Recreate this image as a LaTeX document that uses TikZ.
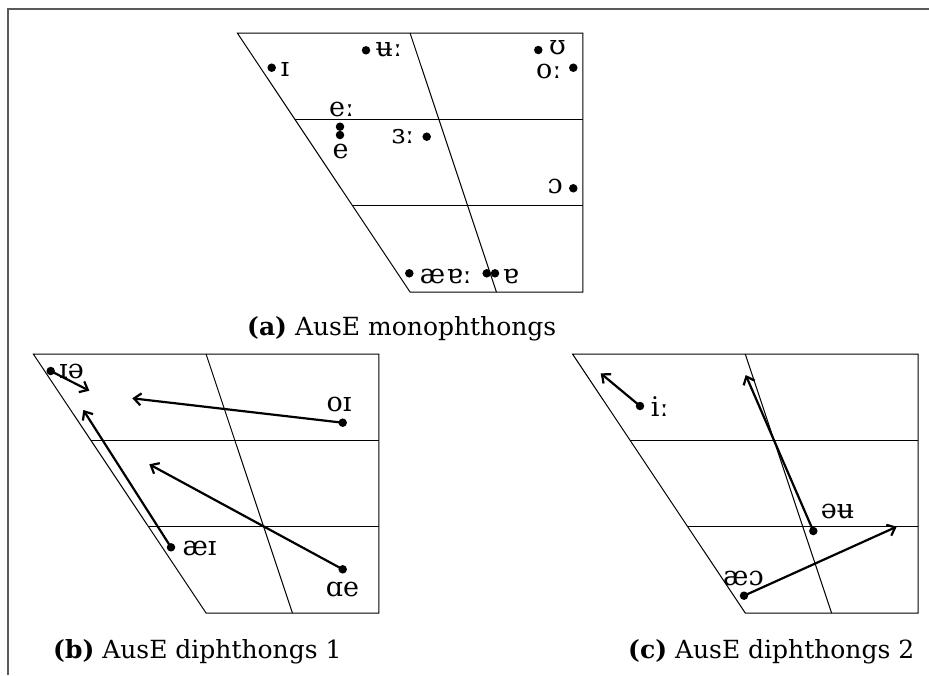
\documentclass[tikz,border=0pt]{standalone}
\usepackage{fontspec}
\setmainfont{DejaVu Serif}
\usetikzlibrary{arrows.meta}
\begin{document}
\begin{tikzpicture}[x=1pt,y=-1pt,
  grid/.style={line width=1pt},
  frame/.style={line width=1.4pt,draw=black!65},
  vdot/.style={circle,fill,inner sep=0pt,minimum size=8.5pt},
  ipa/.style={font=\fontsize{27}{29}\selectfont,inner sep=0pt,anchor=base west},
  diph/.style={line width=2.2pt,-{Straight Barb[length=7pt,width=12pt]}},
  capt/.style={font=\fontsize{25}{28}\selectfont,inner sep=0pt,anchor=base west},
  vowelchart/.pic={
    \draw[grid] (0,0) -- (345.5,0) -- (345.5,259) -- (172.75,259) -- cycle;
    \draw[grid] (172.75,0) -- (259.1,259);
    \draw[grid] (57.6,86.33) -- (345.5,86.33);
    \draw[grid] (115.2,172.67) -- (345.5,172.67);
  }
]
\useasboundingbox (0,0) rectangle (929,675);
\fill[white] (0,0) rectangle (929,675);
\draw[frame] (8,675) -- (8,9) -- (929,9);

% ---------- (a) monophthongs ----------
\pic at (237.3,33) {vowelchart};
\node[vdot] (aI) at (271.7,67.7) {};
\node[vdot] (aUU) at (366,50.3) {};
\node[vdot] (aU) at (538.3,50) {};
\node[vdot] (aO) at (573.3,67.7) {};
\node[vdot] (aEE) at (340,126.7) {};
\node[vdot] (aE) at (340,135) {};
\node[vdot] (aER) at (426.7,136.7) {};
\node[vdot] (aOO) at (573.3,188.3) {};
\node[vdot] (aAE) at (409.3,273.3) {};
\node[vdot] (aAA) at (486.7,273.3) {};
\node[vdot] (aA) at (495,273.3) {};
\node[ipa] (laI) at (280.5,76.7) {ɪ};
\node[ipa] (laUU) at (375.5,56.7) {ʉː};
\node[ipa] (laU) at (549,54.5) {ʊ};
\node[ipa] (laO) at (536,78.5) {oː};
\node[ipa] (laEE) at (329,116.7) {eː};
\node[ipa] (laE) at (332.3,158.3) {e};
\node[ipa] (laER) at (391.3,143.3) {ɜː};
\node[ipa] (laOO) at (547.3,193.3) {ɔ};
\node[ipa] (laAE) at (419.7,283.3) {æ};
\node[ipa] (laAA) at (446.3,283.3) {ɐː};
\node[ipa] (laA) at (502.3,283.3) {ɐ};
\node[capt] (capa) at (247,335.7) {\textbf{(a)} AusE monophthongs};

% ---------- (b) diphthongs 1 ----------
\pic at (33.3,354) {vowelchart};
\node[vdot] (bIe) at (50.7,371) {};
\node[vdot] (bOI) at (342.7,422.7) {};
\node[vdot] (bAEI) at (171,547.3) {};
\node[vdot] (bAE) at (342.7,569.3) {};
\coordinate (tIe) at (89.3,390.7);
\coordinate (tOI) at (132.3,398.3);
\coordinate (tAEI) at (83.3,410);
\coordinate (tAE) at (149.3,464.3);
\draw[diph] (bIe.center) -- (tIe);
\draw[diph] (bOI.center) -- (tOI);
\draw[diph] (bAEI.center) -- (tAEI);
\draw[diph] (bAE.center) -- (tAE);
\node[ipa] (lbIe) at (59,378.3) {ɪə};
\node[ipa] (lbOI) at (326.3,411.7) {oɪ};
\node[ipa] (lbAEI) at (182.3,555) {æɪ};
\node[ipa] (lbAE) at (325.7,596.7) {ɑe};
\node[capt] (capb) at (53,658) {\textbf{(b)} AusE diphthongs 1};

% ---------- (c) diphthongs 2 ----------
\pic at (572.5,354) {vowelchart};
\node[vdot] (cI) at (640,406) {};
\node[vdot] (cOU) at (813.3,531) {};
\node[vdot] (cAO) at (744,595.7) {};
\coordinate (tI) at (600.7,373.3);
\coordinate (tOU) at (745.7,375);
\coordinate (tAO) at (896.7,526.7);
\draw[diph] (cI.center) -- (tI);
\draw[diph] (cOU.center) -- (tOU);
\draw[diph] (cAO.center) -- (tAO);
\node[ipa] (lcI) at (650.7,416.7) {iː};
\node[ipa] (lcOU) at (820.7,518.3) {əʉ};
\node[ipa] (lcAO) at (723,585) {æɔ};
\node[capt] (capc) at (628,658) {\textbf{(c)} AusE diphthongs 2};
\end{tikzpicture}
\end{document}
